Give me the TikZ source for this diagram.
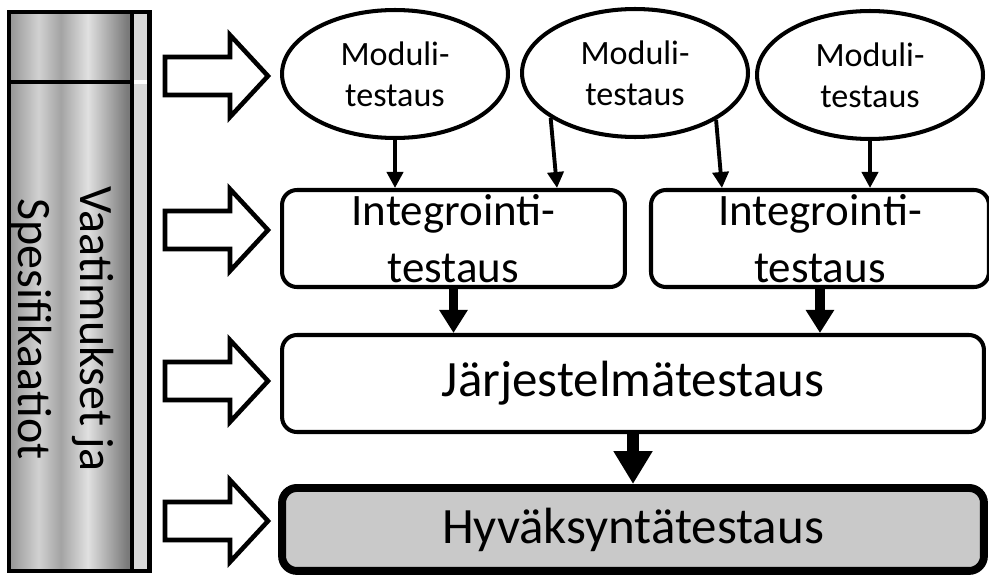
\documentclass[tikz,border=0pt]{standalone}
\usepackage{fontspec}
\setmainfont{Carlito}
\usetikzlibrary{arrows.meta,positioning,calc,shapes.geometric}

\definecolor{barA}{gray}{0.60}
\definecolor{barB}{gray}{0.82}
\definecolor{barC}{gray}{0.64}
\definecolor{barD}{gray}{0.88}
\definecolor{barE}{gray}{0.48}
\definecolor{stripfill}{gray}{0.85}
\definecolor{hyvfill}{gray}{0.79}
\pgfdeclarehorizontalshading{barshade}{100bp}{color(0bp)=(barA); color(26bp)=(barA); color(37bp)=(barB); color(46bp)=(barC); color(57bp)=(barD); color(73bp)=(barE); color(100bp)=(barE)}

\begin{document}
\begin{tikzpicture}[x=0.02cm,y=-0.02cm,
  modul/.style={ellipse,draw,line width=2.3pt,minimum width=4.52cm,minimum height=2.56cm,align=center,inner sep=0pt,font=\fontsize{19.4pt}{23.3pt}\selectfont},
  integ/.style={draw,line width=2.3pt,rounded corners=8.5pt,minimum height=1.94cm,align=center,inner sep=0pt,font=\fontsize{25.6pt}{32.4pt}\selectfont},
  jtest/.style={draw,line width=2.3pt,rounded corners=8.5pt,minimum width=14.04cm,minimum height=1.94cm,font=\fontsize{29pt}{35pt}\selectfont},
  htest/.style={jtest,line width=4.5pt,fill=hyvfill,minimum height=1.66cm},
  thinarr/.style={-{Triangle[width=0.32cm,length=0.32cm]},line width=2.2pt},
  thickarr/.style={-{Triangle[width=0.54cm,length=0.46cm]},line width=5.5pt},
  bigarr/.style={-{Triangle[width=0.74cm,length=0.66cm]},line width=6.8pt},
  inarr/.style={draw,line width=2.6pt,fill=white,miter limit=10},
  barline/.style={line width=2.8pt},
  bartext/.style={rotate=-90,align=center,font=\fontsize{27.3pt}{35.3pt}\selectfont}]
\useasboundingbox (0,0) rectangle (989,578);
% requirements column
\shade[shading=barshade] (9,12) rectangle (132,571);
\fill[stripfill] (132,12) rectangle (149.5,571);
\draw[barline] (9,82) -- (132,82);
\fill[white] (134,80) rectangle (147.5,84);
\draw[barline] (132,12) -- (132,571);
\draw[barline] (9,12) rectangle (149.5,571);
\node[bartext] (spec) at (62,329) {Vaatimukset ja\\Spesifikaatiot};
% input arrows, one per level
\foreach \y in {76,230,381,521}
  \draw[inarr] (165,\y-19) -- (230,\y-19) -- (230,\y-41) -- (268,\y) -- (230,\y+41) -- (230,\y+19) -- (165,\y+19) -- cycle;
% test levels
\node[modul] (E1) at (395,74) {Moduli-\\testaus};
\node[modul] (E2) at (635,73) {Moduli-\\testaus};
\node[modul] (E3) at (870,75) {Moduli-\\testaus};
\node[integ,minimum width=6.86cm] (IT1) at (453.5,238.5) {Integrointi-\\testaus};
\node[integ,minimum width=6.76cm,right=0.44cm of IT1] (IT2) {Integrointi-\\testaus};
\node[jtest] (Jar) at (633,383.5) {Järjestelmätestaus};
\node[htest,below=1cm of Jar] (Hyv) {Hyväksyntätestaus};
% connectors
\draw[thinarr] (E1.south) -- (E1.south |- IT1.north);
\draw[thinarr] (E2.208) -- ($(IT1.north)+(103.5,0)$);
\draw[thinarr] (E2.330) -- ($(IT2.north)+(-98,0)$);
\draw[thinarr] (E3.south) -- (E3.south |- IT2.north);
\draw[thickarr] (IT1.south) -- (IT1.south |- Jar.north);
\draw[thickarr] (IT2.south) -- (IT2.south |- Jar.north);
\draw[bigarr] (Jar.south) -- (Hyv.north);
\end{tikzpicture}
\end{document}
